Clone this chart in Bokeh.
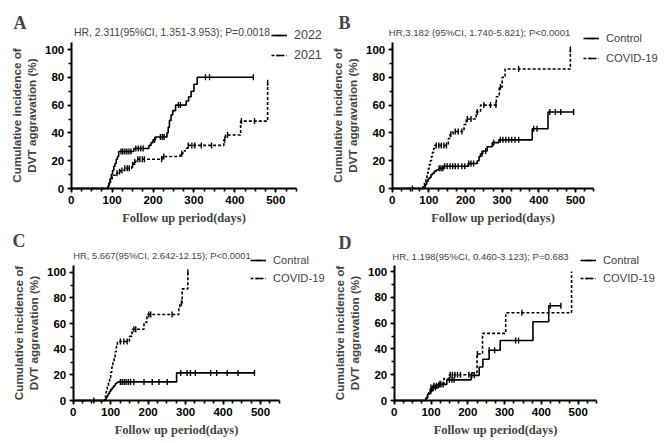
import numpy as np
from bokeh.plotting import figure
from bokeh.models import Range1d, SingleIntervalTicker, Legend, LegendItem, Label
from bokeh.layouts import column, row
from bokeh.embed import file_html
from bokeh.resources import INLINE

# ---- A: 2022 vs 2021 ----
a_hr = "HR, 2.311(95%CI, 1.351-3.953); P=0.0018"
a_names = ["2022", "2021"]
a_solid_t = [0, 90, 92, 95, 98, 101, 104, 107, 110, 113, 116, 153, 190, 195, 200, 206, 234, 237, 240, 244, 248, 255, 281, 287, 293, 300, 308, 445]
a_solid_y = [0, 2, 4, 7, 10, 13, 16, 18, 21, 23, 26.6, 28.8, 31, 33, 35, 37, 40, 44, 49, 53, 56, 60, 63, 66, 70, 75, 80, 80]
a_solid_c = [122, 126, 131, 136, 141, 146, 158, 164, 170, 176, 204, 218, 223, 227, 262, 267, 328, 338, 445]
a_dash_t = [0, 90, 93, 96, 100, 104, 108, 114, 120, 130, 148, 152, 158, 222, 266, 273, 279, 285, 373, 377, 414, 480]
a_dash_y = [0, 2, 4, 6, 8, 9.5, 11, 12, 13, 14.5, 17, 19, 21, 23, 25, 27, 29, 31, 35, 38.5, 48.5, 76]
a_dash_c = [112, 118, 124, 131, 137, 142, 150, 155, 163, 168, 174, 179, 221, 226, 270, 286, 295, 302, 318, 343, 375, 382, 416, 448, 480]

# ---- B: Control vs COVID-19 ----
b_hr = "HR,3.182 (95%CI, 1.740-5.821); P<0.0001"
b_names = ["Control", "COVID-19"]
b_solid_t = [0, 86, 90, 94, 98, 102, 106, 110, 115, 121, 128, 141, 207, 232, 237, 241, 247, 259, 273, 291, 382, 425, 495]
b_solid_y = [0, 1, 3, 5, 7, 8, 10, 11, 12.5, 13.5, 14.5, 16, 18, 20, 23, 25, 27, 30, 33, 35, 43, 55, 55]
b_solid_c = [55, 128, 133, 138, 143, 150, 158, 165, 172, 180, 190, 198, 209, 215, 222, 245, 255, 277, 295, 302, 310, 318, 326, 335, 345, 386, 395, 430, 445, 460, 495]
b_dash_t = [0, 84, 88, 92, 95, 98, 101, 104, 107, 110, 113, 116, 153, 158, 166, 196, 202, 229, 241, 284, 292, 300, 308, 486]
b_dash_y = [0, 2, 5, 8, 11, 14, 17, 20, 23, 26, 29, 31, 36, 39, 41, 46, 50, 55, 60, 66, 73, 80, 86, 100]
b_dash_c = [120, 127, 134, 141, 148, 160, 172, 180, 190, 205, 215, 232, 250, 268, 283, 295, 345, 486]

# ---- C ----
c_hr = "HR, 5.667(95%CI, 2.642-12.15); P<0.0001"
c_names = ["Contral", "COVID-19"]
c_solid_t = [0, 85, 88, 91, 94, 97, 100, 104, 108, 112, 116, 120, 276, 484]
c_solid_y = [0, 1, 2.5, 4, 5.5, 7, 8.5, 10, 11.5, 13, 14, 14.5, 21.5, 21.5]
c_solid_c = [55, 126, 131, 136, 141, 147, 153, 162, 189, 211, 229, 251, 287, 304, 313, 326, 367, 383, 411, 440, 484]
c_dash_t = [0, 85, 88, 91, 94, 97, 100, 103, 106, 109, 112, 115, 118, 150, 157, 189, 197, 282, 285, 291, 306]
c_dash_y = [0, 3, 7, 11, 14, 18, 22, 26, 30, 34, 38, 42, 46, 50, 55.5, 61, 67, 72, 76, 87, 100]
c_dash_c = [126, 135, 144, 162, 167, 202, 207, 264, 289, 306]

# ---- D ----
d_hr = "HR, 1.198(95%CI, 0.460-3.123); P=0.683"
d_names = ["Contral", "COVID-19"]
d_solid_t = [0, 86, 91, 98, 105, 120, 143, 209, 231, 241, 258, 288, 377, 420, 453]
d_solid_y = [0, 2, 5, 7.5, 10, 12.5, 16, 19.5, 26, 32, 39, 46.5, 61, 73.5, 73.5]
d_solid_c = [100, 106, 112, 122, 127, 133, 150, 157, 163, 211, 218, 258, 273, 330, 338, 424, 453]
d_dash_t = [0, 86, 90, 94, 98, 104, 120, 135, 150, 207, 225, 240, 303, 482]
d_dash_y = [0, 2, 5, 7.5, 10, 11.5, 13, 17, 20, 21.5, 36, 52, 68, 100]
d_dash_c = [100, 108, 115, 125, 152, 158, 165, 172, 180, 203, 226, 347]


def at_time(t, y, c):
    # value of the KM step curve at each censor time
    idx = np.searchsorted(np.asarray(t), np.asarray(c), side="right") - 1
    return np.asarray(y)[np.clip(idx, 0, None)]


def km_panel(letter, hr, names, solid, dash, g):
    # the frame fills the whole figure; axes sit at day 0 / 0 %
    w, h = g["w"], g["h"]
    x0, pxd = g["x0"], g["pxd"]
    y0, pxu = g["y0"], g["pxu"]
    p = figure(width=w, height=h, title=None, toolbar_location=None,
               output_backend="svg",
               x_range=Range1d(-x0 / pxd, (w - x0) / pxd),
               y_range=Range1d(-(h - y0) / pxu, y0 / pxu),
               min_border=0)
    p.grid.visible = False
    p.outline_line_color = None
    p.xaxis.ticker = SingleIntervalTicker(interval=100, num_minor_ticks=4)
    p.yaxis.ticker = SingleIntervalTicker(interval=20, num_minor_ticks=2)
    p.xaxis.bounds = (0, 550)
    p.yaxis.bounds = (0, 105)
    p.xaxis.fixed_location = 0
    p.yaxis.fixed_location = 0
    for ax in (p.xaxis[0], p.yaxis[0]):
        ax.axis_line_width = 2
        ax.major_tick_line_width = 1.6
        ax.minor_tick_line_width = 1.6
        ax.major_tick_in = 0
        ax.major_tick_out = 4
        ax.minor_tick_in = 0
        ax.minor_tick_out = 3
        ax.major_label_text_font = "Liberation Sans"
        ax.major_label_text_font_style = "bold"
        ax.major_label_text_font_size = "11.5px"
        ax.major_label_text_color = "black"
        ax.major_label_standoff = 3
        ax.axis_label_standoff = 4
    p.xaxis.axis_label = "Follow up period(days)"
    p.xaxis.axis_label_text_font = "Liberation Serif"
    p.xaxis.axis_label_text_font_style = "bold"
    p.xaxis.axis_label_text_font_size = "12.5px"
    p.yaxis.axis_label = "Cumulative incidence of\nDVT aggravation (%)"
    p.yaxis.axis_label_text_font = "Liberation Sans"
    p.yaxis.axis_label_text_font_style = "bold"
    p.yaxis.axis_label_text_font_size = "11.7px"

    items = []
    for name, (t, y, c), dashp in ((names[0], solid, "solid"), (names[1], dash, "3 2")):
        r1 = p.step(t, y, mode="after", line_color="black", line_width=1.6, line_dash=dashp)
        r2 = p.scatter(c, at_time(t, y, c), marker="dash", angle=np.pi / 2, size=6,
                       line_color="black", line_width=1.4)
        items.append(LegendItem(label=name, renderers=[r1, r2]))
    leg = Legend(items=items, location=g["leg"], padding=0, margin=0, spacing=2,
                 glyph_width=16, glyph_height=g["gh"], label_standoff=7,
                 border_line_color=None, background_fill_alpha=0,
                 label_text_font="Liberation Sans", label_text_font_size=g["lfs"])
    p.add_layout(leg)

    p.add_layout(Label(x=g["let"][0], y=g["let"][1], x_units="screen", y_units="screen",
                       text=letter, text_font="Liberation Serif", text_font_style="bold",
                       text_font_size="18px", text_baseline="alphabetic"))
    p.add_layout(Label(x=g["hr"][0], y=g["hr"][1], x_units="screen", y_units="screen",
                       text=hr, text_font="Liberation Sans", text_font_size=g["hfs"],
                       text_align="center", text_baseline="alphabetic"))
    return p


geo_a = dict(w=331, h=228, x0=70.7, pxd=0.4092, y0=188, pxu=1.39,
             leg=(271, 164), gh=18, lfs="12.5px", let=(13, 206), hr=(171.5, 196.5), hfs="10.4px")
geo_b = dict(w=338, h=228, x0=60.7, pxd=0.3666, y0=188, pxu=1.39,
             leg=(252, 161), gh=18, lfs="11.2px", let=(7, 206), hr=(148, 196.5), hfs="9.6px")
geo_c = dict(w=331, h=215, x0=72.7, pxd=0.3746, y0=172, pxu=1.283,
             leg=(250, 157), gh=16, lfs="11.2px", let=(12, 203), hr=(161.5, 188), hfs="9.4px")
geo_d = dict(w=338, h=215, x0=62.7, pxd=0.368, y0=172, pxu=1.29,
             leg=(249, 157), gh=16, lfs="11.2px", let=(7, 201), hr=(149, 187), hfs="9.6px")

pa = km_panel("A", a_hr, a_names, (a_solid_t, a_solid_y, a_solid_c), (a_dash_t, a_dash_y, a_dash_c), geo_a)
pb = km_panel("B", b_hr, b_names, (b_solid_t, b_solid_y, b_solid_c), (b_dash_t, b_dash_y, b_dash_c), geo_b)
pc = km_panel("C", c_hr, c_names, (c_solid_t, c_solid_y, c_solid_c), (c_dash_t, c_dash_y, c_dash_c), geo_c)
pd = km_panel("D", d_hr, d_names, (d_solid_t, d_solid_y, d_solid_c), (d_dash_t, d_dash_y, d_dash_c), geo_d)

layout = column(row(pa, pb), row(pc, pd))
open("out.html", "w").write(file_html(layout, INLINE))
